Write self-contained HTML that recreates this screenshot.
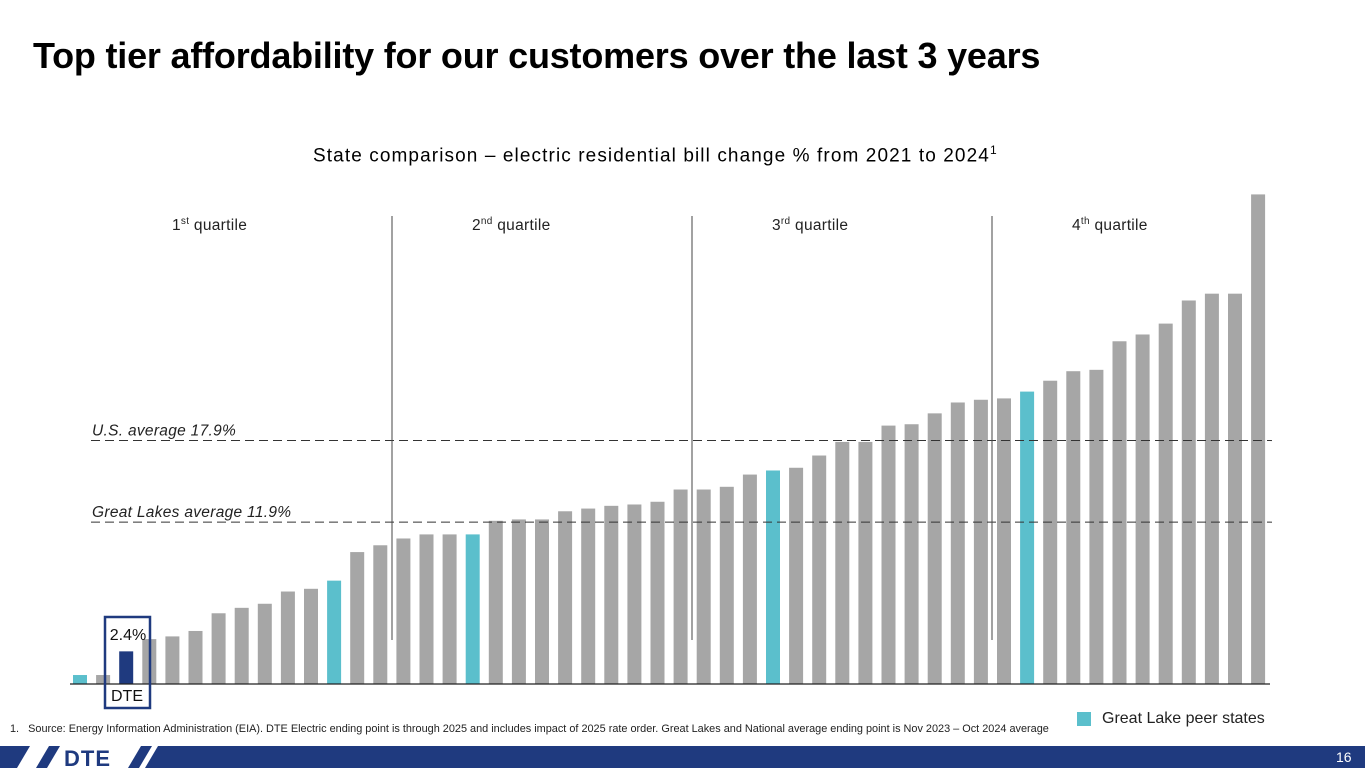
<!DOCTYPE html>
<html><head><meta charset="utf-8"><style>
body{margin:0;width:1365px;height:768px;overflow:hidden;background:#fff;font-family:"Liberation Sans",sans-serif;position:relative}
.t{position:absolute;white-space:nowrap}
</style></head><body>
<div class="t" style="left:33px;top:35px;font-size:36px;font-weight:bold;color:#000;letter-spacing:-0.2px">Top tier affordability for our customers over the last 3 years</div>
<div class="t" style="left:313px;top:143px;font-size:19px;color:#000;letter-spacing:1.1px">State comparison – electric residential bill change % from 2021 to 2024<sup style="font-size:12px">1</sup></div>
<svg id="chart" width="1365" height="768" style="position:absolute;left:0;top:0"></svg>
<div class="t" style="left:10px;top:723px;font-size:10.9px;color:#222">1.&nbsp;&nbsp;&nbsp;Source: Energy Information Administration (EIA). DTE Electric ending point is through 2025 and includes impact of 2025 rate order. Great Lakes and National average ending point is Nov 2023 – Oct 2024 average</div>
<div style="position:absolute;left:1077px;top:712px;width:14px;height:14px;background:#5bbfcc"></div>
<div class="t" style="left:1102px;top:710px;font-size:16px;color:#222">Great Lake peer states</div>
<svg width="1365" height="22" style="position:absolute;left:0;top:746px">
<rect width="1365" height="22" fill="#1f3a7f"/>
<polygon points="30,0 158,0 145,22 17,22" fill="#fff"/>
<polygon points="36,22 49,0 60,0 47,22" fill="#1f3a7f"/>
<polygon points="128,22 141,0 152,0 139,22" fill="#1f3a7f"/>
<text x="64" y="20" font-size="22" font-weight="bold" fill="#1f3a7f" font-family="Liberation Sans" letter-spacing="1">DTE</text>
<text x="1336" y="16" font-size="14" fill="#fff" font-family="Liberation Sans">16</text>
</svg>
<script>
const values=[0.66,0.66,2.4,3.3,3.5,3.9,5.2,5.6,5.9,6.8,7.0,7.6,9.7,10.2,10.7,11.0,11.0,11.0,12.0,12.1,12.1,12.7,12.9,13.1,13.2,13.4,14.3,14.3,14.5,15.4,15.7,15.9,16.8,17.8,17.8,19.0,19.1,19.9,20.7,20.9,21.0,21.5,22.3,23.0,23.1,25.2,25.7,26.5,28.2,28.7,28.7,36.0];
const peerIdx=[0,11,17,30,41];
const dteIdx=[2];
const avgValues=[17.9,11.9];
const avgLabels=["U.S. average 17.9%","Great Lakes average 11.9%"];
const quartileLabels=["1st","2nd","3rd","4th"];
const NS="http://www.w3.org/2000/svg",svg=document.getElementById('chart');
const base=684,k=13.6,x0=80,step=23.1,bw=14;
const y=v=>base-v*k, x=i=>x0+i*step;
function mk(t,a){const e=document.createElementNS(NS,t);for(const n in a)e.setAttribute(n,a[n]);svg.appendChild(e);return e;}
values.forEach((v,i)=>{
 const c=dteIdx.includes(i)?'#1f3a7f':peerIdx.includes(i)?'#5bbfcc':'#a6a6a6';
 const r=mk('rect',{x:x(i)-bw/2,y:y(v),width:bw,height:v*k,fill:c});
 
 
});
const bl=mk('line',{x1:70,x2:1270,y1:base,y2:base,stroke:'#222','stroke-width':1.2});


avgValues.forEach((v,i)=>{
 const l=mk('line',{x1:91,x2:1272,y1:y(v),y2:y(v),stroke:'#333','stroke-dasharray':'9,5','stroke-width':1});
 
 
 const t=mk('text',{x:92,y:y(v)-5,'font-size':15.5,'font-style':'italic',fill:'#222','letter-spacing':0.3});
 t.textContent=avgLabels[i];
 
 
});
[392,692,992].forEach((qx,i)=>{
 const l=mk('line',{x1:qx,x2:qx,y1:216,y2:640,stroke:'#444','stroke-width':1});
 
 
});
quartileLabels.forEach((q,i)=>{
 const t=mk('text',{x:172+i*300,y:230,'font-size':15.5,fill:'#222','letter-spacing':0.3});
 t.innerHTML=q.slice(0,-2)+'<tspan font-size="10" dy="-6">'+q.slice(-2)+'</tspan><tspan dy="6"> quartile</tspan>';
 
 
});
const bx=mk('rect',{x:105,y:617,width:45,height:91,fill:'none',stroke:'#1f3a7f','stroke-width':2.5});


const vt=mk('text',{x:128,y:640,'font-size':16,'text-anchor':'middle',fill:'#111'});
vt.textContent=values[dteIdx[0]].toFixed(1)+'%';


const dt=mk('text',{x:127,y:701,'font-size':16,'text-anchor':'middle',fill:'#111'});
dt.textContent='DTE';


</script>
</body></html>
